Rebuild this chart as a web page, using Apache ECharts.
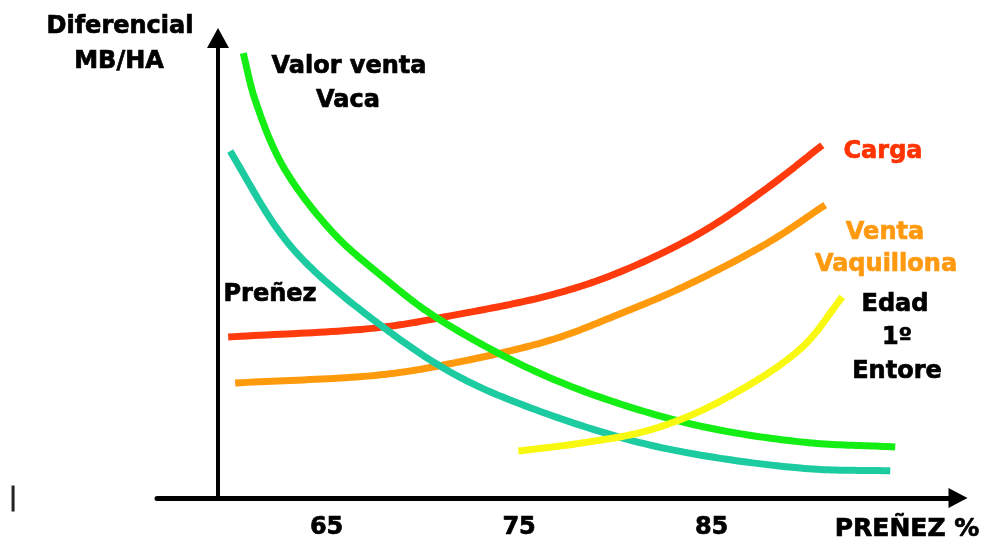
<!DOCTYPE html>
<html>
<head>
<meta charset="utf-8">
<script src="https://cdn.jsdelivr.net/npm/echarts@6/dist/echarts.min.js"></script>
<style>
html,body{margin:0;padding:0;background:#fff;}
#chart{width:993px;height:548px;}
</style>
</head>
<body>
<div id="chart"></div>
<script>
// Tick labels on the Preñez axis
var xTickLabels = [65, 75, 85];
var xAxisName = 'PREÑEZ %';
var yAxisTitle = ['Diferencial', 'MB/HA'];

// Curves: [preñez %, diferencial MB/HA (relative units)]
var cargaData = [[59.89,35.0],[67.63,37.0],[71.42,39.6],[76.62,44.1],[80.10,48.9],[84.41,57.6],[87.89,67.4],[90.75,76.7]];
var ventaVaquillonaData = [[60.25,25.0],[67.63,26.7],[71.06,28.9],[76.62,34.3],[80.10,39.8],[83.53,45.9],[87.89,55.4],[90.90,63.7]];
var prenezData = [[59.99,75.4],[62.44,58.5],[64.15,50.2],[67.79,37.6],[71.42,27.4],[74.90,20.7],[81.81,11.5],[89.61,6.5],[94.28,5.9]];
var valorVentaVacaData = [[60.67,96.7],[61.29,86.5],[62.75,72.0],[65.35,57.6],[67.94,48.0],[70.75,39.1],[76.62,26.1],[83.53,16.5],[89.61,12.2],[94.54,11.1]];
var edadEntoreData = [[74.96,10.2],[78.33,12.0],[81.81,14.8],[85.29,20.7],[89.61,32.4],[91.79,43.7]];

var FONT = 'DejaVu Sans';

// Centripetal Catmull-Rom sampling in pixel space (rendering only)
function splinePoints(P, n) {
  var out = [];
  function d(a, b) { return Math.pow(Math.hypot(b[0] - a[0], b[1] - a[1]), 0.5) || 1e-4; }
  function mix(a, b, ta, tb, t) {
    var u = (t - ta) / (tb - ta);
    return [a[0] + (b[0] - a[0]) * u, a[1] + (b[1] - a[1]) * u];
  }
  for (var i = 0; i < P.length - 1; i++) {
    var p1 = P[i], p2 = P[i + 1];
    var p0 = P[i - 1] || [2 * p1[0] - p2[0], 2 * p1[1] - p2[1]];
    var p3 = P[i + 2] || [2 * p2[0] - p1[0], 2 * p2[1] - p1[1]];
    var t0 = 0, t1 = t0 + d(p0, p1), t2 = t1 + d(p1, p2), t3 = t2 + d(p2, p3);
    for (var k = (i === 0 ? 0 : 1); k <= n; k++) {
      var t = t1 + (t2 - t1) * k / n;
      var A1 = mix(p0, p1, t0, t1, t), A2 = mix(p1, p2, t1, t2, t), A3 = mix(p2, p3, t2, t3, t);
      var B1 = mix(A1, A2, t0, t2, t), B2 = mix(A2, A3, t1, t3, t);
      out.push(mix(B1, B2, t1, t2, t));
    }
  }
  return out;
}

function curveSeries(name, data, color) {
  return {
    name: name, type: 'custom', data: data, silent: true, animation: false,
    encode: { x: 0, y: 1 },
    renderItem: function (params, api) {
      if (params.dataIndex !== 0) return null;
      var px = data.map(function (p) { return api.coord(p); });
      return {
        type: 'polyline',
        shape: { points: splinePoints(px, 24) },
        style: { stroke: color, lineWidth: 7, fill: 'none' }
      };
    }
  };
}

function txt(text, x, y, color, size) {
  var c = color || '#000';
  return {
    type: 'text', x: x, y: y,
    style: { text: text, fill: c, stroke: c, lineWidth: 0.7, font: 'bold ' + (size || 24) + 'px "' + FONT + '"', align: 'center', verticalAlign: 'middle' }
  };
}

var chart = echarts.init(document.getElementById('chart'));
chart.setOption({
  backgroundColor: '#fff',
  animation: false,
  grid: { left: 157, right: 35, top: 38, bottom: 50 },
  xAxis: {
    type: 'value', min: 56.19, max: 97.8,
    splitLine: { show: false },
    axisTick: { show: false },
    axisLine: { show: true, onZero: false, symbol: ['none', 'triangle'], symbolSize: [20, 19],
      lineStyle: { color: '#000', width: 5 } },
    axisLabel: { customValues: xTickLabels, margin: 18, color: '#000', fontFamily: FONT, fontWeight: 'bold', fontSize: 24,
      textBorderColor: '#000', textBorderWidth: 0.7 },
    name: xAxisName, nameLocation: 'end', nameGap: -51,
    nameTextStyle: { align: 'center', verticalAlign: 'top', padding: [19, 0, 0, 0], color: '#000', fontFamily: FONT, fontWeight: 'bold', fontSize: 25,
      textBorderColor: '#000', textBorderWidth: 0.7 }
  },
  yAxis: {
    type: 'value', min: 0, max: 100, offset: -61,
    splitLine: { show: false },
    axisTick: { show: false },
    axisLabel: { show: false },
    axisLine: { show: true, onZero: false, symbol: ['none', 'triangle'], symbolSize: [22, 20],
      lineStyle: { color: '#000', width: 4 } }
  },
  graphic: [
    txt(yAxisTitle[0], 120, 27),
    txt(yAxisTitle[1], 119, 62),
    txt('Valor venta', 349, 67),
    txt('Vaca', 348, 101),
    txt('Preñez', 270, 295),
    txt('Carga', 883, 152, '#ff3300'),
    txt('Venta', 885, 233, '#ff9a10'),
    txt('Vaquillona', 886, 265, '#ff9a10'),
    txt('Edad', 895, 305),
    txt('1º', 897, 338),
    txt('Entore', 897, 372),
    { type: 'text', x: 13, y: 499, style: { text: '|', fill: '#222', stroke: '#222', lineWidth: 1, font: '24px "' + FONT + '"', align: 'center', verticalAlign: 'middle' } }
  ],
  series: [
    curveSeries('Carga', cargaData, '#ff3a0c'),
    curveSeries('Venta Vaquillona', ventaVaquillonaData, '#ff9a0c'),
    curveSeries('Preñez', prenezData, '#1ccba0'),
    curveSeries('Valor venta Vaca', valorVentaVacaData, '#14ee14'),
    curveSeries('Edad 1º Entore', edadEntoreData, '#f8f810')
  ]
});
</script>
</body>
</html>
